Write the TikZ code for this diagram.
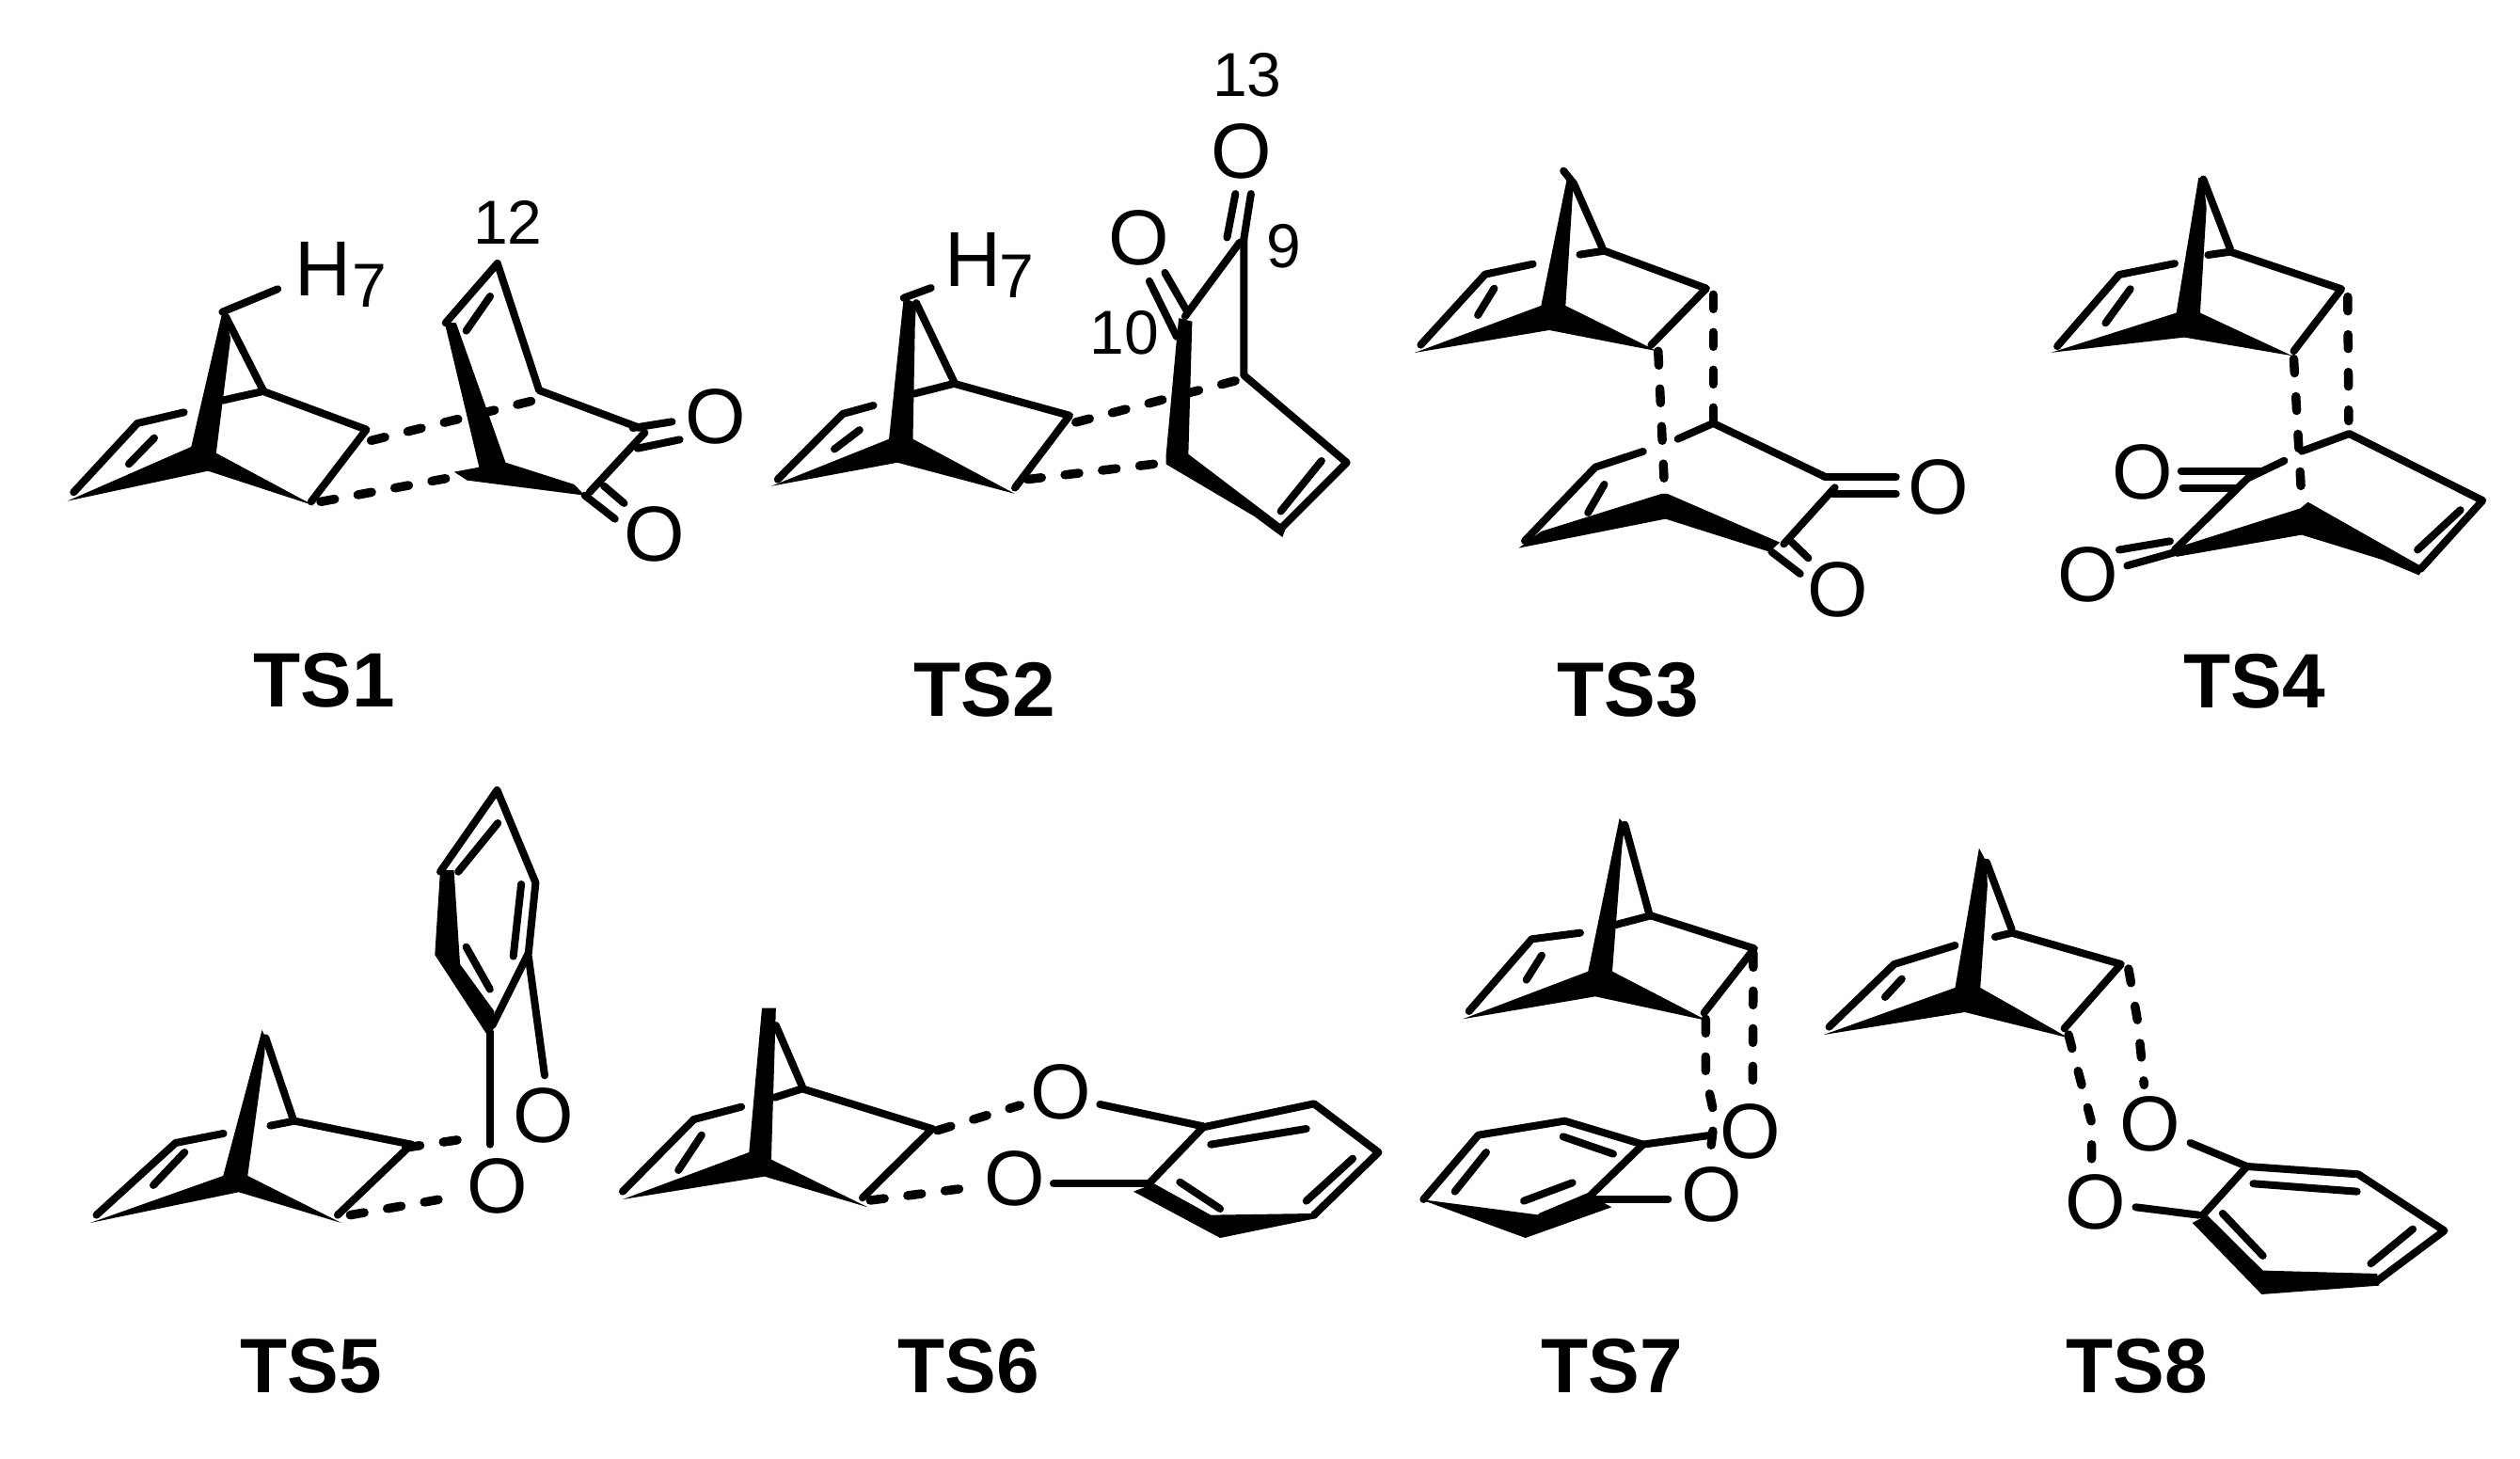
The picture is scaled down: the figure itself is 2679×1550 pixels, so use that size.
\documentclass[tikz,border=0pt]{standalone}
\usepackage{fontspec}
\setmainfont{Liberation Sans}
\usetikzlibrary{calc}
\newcommand{\pts}[1]{\foreach \n/\xx/\yy in {#1}{\coordinate (\n) at (\xx,\yy);}}
\newcommand{\norb}{%
  \fill (Ta) -- (WL) -- (TL) -- (Bt) -- (TR) -- (WR) -- (WT) -- (Tb) -- cycle;
  \draw[bond] (Lt) -- (C1) -- (G1);
  \draw[bond] (G2) -- (Kk) -- (Qq) -- (Rr);
  \draw[bond] (Tb) -- (Ks);
  \draw[bond] (I1) -- (I2);
}
\tikzset{
  bond/.style={line width=8pt,line cap=round,line join=round},
  dbond/.style={line width=9.5pt,line cap=round,line join=round,dash pattern=on 15pt off 25pt},
  atomO/.style={inner sep=0pt,font=\fontsize{83}{90}\selectfont},
  sub/.style={inner sep=0pt,font=\fontsize{66}{70}\selectfont},
  tslabel/.style={inner sep=0pt,font=\fontsize{82}{90}\selectfont\bfseries}
}
\begin{document}
\begin{tikzpicture}
\fill[white] (0,0) rectangle (2679pt,-1550pt);
\useasboundingbox (0,0) rectangle (2679pt,-1550pt);
% TS1
\begin{scope}[shift={(40pt,-180pt)},x=0.5102pt,y=-0.3333pt]
\pts{Ta/385/455,WL/320/885,TL/62/1058,Bt/355/962,TR/575/1072,WR/372/905,WT/402/540,Tb/392/470,
Lt/75/1030,C1/208/810,G1/305/775,G2/385/737,Kk/470/708,Ks/470/705,Qq/685/830,Rr/570/1060,I1/190/940,I2/243/857,
Hb/500/382,d1/695/865,d2/1040/735,d3/590/1060,d4/890/975,
p1/848/488,p2/920/950,p3/868/965,p4/895/992,p5/1140/1040,p6/1118/1005,p7/975/935,p8/872/490,
a/850/490,b/958/300,c/1045/705,e/1255/825,f/1265/840,g/1150/1030,h/893/515,i/943/405,
j/1240/825,k/1322/805,l/1250/890,m/1338/862,n/1180/1010,o/1222/1065,q/1140/1040,r/1203/1115}
\norb
\draw[bond] (Ta) -- (Hb);
\node[atomO] (h1) at (595,318) {H};
\node[sub] (s1) at (692,370) {7};
\node[sub] (n12) at (980,170) {12};
\draw[dbond] (d1) -- (d2);
\draw[dbond] (d3) -- (d4);
\fill (p1) -- (p2) -- (p3) -- (p4) -- (p5) -- (p6) -- (p7) -- (p8) -- cycle;
\draw[bond] (a) -- (b) -- (c) -- (e);
\draw[bond] (f) -- (g);
\draw[bond] (h) -- (i);
\draw[bond] (j) -- (k);
\draw[bond] (l) -- (m);
\draw[bond] (n) -- (o);
\draw[bond] (q) -- (r);
\node[atomO] (o1a) at (1413,790) {O};
\node[atomO] (o1b) at (1285,1165) {O};
\end{scope}
% TS2
\begin{scope}[shift={(800pt,-40pt)},x=0.4464pt,y=-0.3571pt]
\pts{Ta/360/775,WL/325/1195,TL/45/1335,Bt/345/1265,TR/625/1358,WR/382/1195,WT/387/855,Tb/390/790,
Lt/60/1315,C1/215/1120,G1/288/1095,G2/385/1060,Kk/480/1030,Ks/480/1025,Qq/755/1125,Rr/625/1340,I1/195/1225,I2/255/1168,
Hb/425/745,d1/770/1145,d2/1170/1015,d3/655/1315,d4/985/1265,
p1/1010/900,p2/1015/835,p3/1047/845,p4/1038/1240,p5/1270/1460,p6/1262/1487,p7/1195/1425,p8/985/1270,p9/985/1240,
a/1030/830,b/1160/610,c/1170/600,e/1170/1005,f/1415/1265,g/1255/1465,h/1355/1260,i/1258/1410,
j/1187/465,k/1150/465,l/1130/595,m/945/725,n/1010/890,o/982/700,q/1035/815}
\norb
\draw[bond] (Ta) -- (Hb);
\node[atomO] (h2) at (525,662) {H};
\node[sub] (s2) at (630,710) {7};
\draw[dbond] (d1) -- (d2);
\draw[dbond] (d3) -- (d4);
\fill (p1) -- (p2) -- (p3) -- (p4) -- (p5) -- (p6) -- (p7) -- (p8) -- (p9) -- cycle;
\draw[bond] (a) -- (b);
\draw[bond] (c) -- (e) -- (f) -- (g);
\draw[bond] (h) -- (i);
\draw[bond] (j) -- (c);
\draw[bond] (k) -- (l);
\draw[bond] (m) -- (n);
\draw[bond] (o) -- (q);
\node[atomO] (o2a) at (1165,338) {O};
\node[atomO] (o2b) at (920,595) {O};
\node[sub] (n13) at (1178,110) {13};
\node[sub] (n9) at (1265,620) {9};
\node[sub] (n10) at (885,878) {10};
\end{scope}
% TS3
\begin{scope}[shift={(1480pt,-150pt)},x=0.4337pt,y=-0.3333pt]
\pts{Ta/430/110,WL/365/525,TL/55/675,Bt/385/603,TR/650/670,WR/425/525,WT/442/180,Tb/445/135,
Lt/70/650,C1/228/425,G1/345/392,G2/460/362,Kk/520/350,Ks/515/340,Qq/770/470,Rr/635/650,I1/210/555,I2/250/470,
t1/420/95,d1/787/490,d2/787/900,d3/652/670,d4/668/1125,
p1/660/1125,p2/365/1245,p3/310/1298,p4/670/1205,p5/925/1310,p6/950/1280,p7/675/1125,
a/325/1275,b/498/1040,c/615/990,e/700/950,f/787/900,g/1060/1070,h/1085/1105,i/960/1285,j/480/1185,k/520/1095,
l/1060/1072,m/1235/1072,n/1080/1125,o/1235/1125,q/980/1280,r/1020/1330,u/930/1310,v/1000/1380}
\norb
\draw[bond] (t1) -- (Tb);
\draw[dbond] (d1) -- (d2);
\draw[dbond] (d3) -- (d4);
\fill (p1) -- (p2) -- (p3) -- (p4) -- (p5) -- (p6) -- (p7) -- cycle;
\draw[bond] (a) -- (b) -- (c);
\draw[bond] (e) -- (f) -- (g);
\draw[bond] (h) -- (i);
\draw[bond] (j) -- (k);
\draw[bond] (l) -- (m);
\draw[bond] (n) -- (o);
\draw[bond] (q) -- (r);
\draw[bond] (u) -- (v);
\node[atomO] (o3a) at (1340,1105) {O};
\node[atomO] (o3b) at (1092,1430) {O};
\end{scope}
% TS4
\begin{scope}[shift={(2150pt,-150pt)},x=0.3374pt,y=-0.3381pt]
\pts{Ta/555/115,WL/485/540,TL/90/665,Bt/510/617,TR/850/675,WR/560/540,WT/580/210,Tb/570/120,
Lt/110/645,C1/305/420,G1/480/385,G2/585/358,Kk/655/348,Ks/655/340,Qq/1005/465,Rr/855/660,I1/262/572,I2/340/465,
d1/1025/490,d2/1028/880,d3/855/685,d4/880/1130,
p1/875/1155,p2/480/1280,p3/485/1307,p4/880/1238,p5/1130/1315,p6/1250/1365,p7/1262/1340,p8/900/1135,
a/480/1285,b/710/1060,c/825/1005,e/880/975,f/1030/920,g/1450/1130,h/1255/1345,i/1245/1285,j/1380/1160,
k/500/1037,l/755/1037,m/505/1090,n/670/1090,o/305/1285,q/465/1258,r/330/1335,u/490/1290}
\norb
\draw[dbond] (d1) -- (d2);
\draw[dbond] (d3) -- (d4);
\fill (p1) -- (p2) -- (p3) -- (p4) -- (p5) -- (p6) -- (p7) -- (p8) -- cycle;
\draw[bond] (a) -- (b) -- (c);
\draw[bond] (e) -- (f) -- (g) -- (h);
\draw[bond] (i) -- (j);
\draw[bond] (k) -- (l);
\draw[bond] (m) -- (n);
\draw[bond] (o) -- (q);
\draw[bond] (r) -- (u);
\node[atomO] (o4a) at (380,1040) {O};
\node[atomO] (o4b) at (207,1362) {O};
\end{scope}
% TS5
\begin{scope}[shift={(70pt,-810pt)},x=0.3827pt,y=-0.3333pt]
\pts{Ta/545/855,WL/437/1320,TL/68/1470,Bt/480/1372,TR/765/1470,WR/505/1320,WT/552/930,Tb/555/880,
Lt/85/1445,C1/305/1215,G1/438/1185,G2/568/1160,Kk/635/1145,Ks/630/1135,Qq/960/1220,Rr/755/1445,I1/243/1350,I2/330/1245,
d1/945/1230,d2/1150/1195,d3/790/1445,d4/1090/1385,
p1/1040/345,p2/1078/345,p3/1095/645,p4/1190/795,p5/1185/860,p6/1170/870,p7/1025/615,
a/1040/350,b/1198/90,c/1305/385,e/1285/610,f/1185/840,g/1090/350,h/1200/195,i/1265/390,j/1243/620,k/1112/590,l/1178/725,
m/1178/860,n/1178/1220,o/1285/620,q/1330/1000}
\norb
\draw[dbond] (d1) -- (d2);
\draw[dbond] (d3) -- (d4);
\fill (p1) -- (p2) -- (p3) -- (p4) -- (p5) -- (p6) -- (p7) -- cycle;
\draw[bond] (a) -- (b) -- (c) -- (e) -- (f);
\draw[bond] (g) -- (h);
\draw[bond] (i) -- (j);
\draw[bond] (k) -- (l);
\draw[bond] (m) -- (n);
\draw[bond] (o) -- (q);
\node[atomO] (o5a) at (1198,1352) {O};
\node[atomO] (o5b) at (1328,1127) {O};
\end{scope}
% TS6
\begin{scope}[shift={(640pt,-1040pt)},x=0.5485pt,y=-0.3333pt]
\pts{Ta/310/95,WL/285/555,TL/40/705,Bt/315/632,TR/515/730,WR/328/578,WT/335/205,Tb/337/95,
Lt/40/680,C1/178/450,G1/270/410,G2/335/380,Kk/388/352,Ks/388/345,Qq/640/480,Rr/505/700,I1/148/612,I2/193/500,
t1/337/150,d1/650/485,d2/810/405,d3/520/708,d4/725/665,
a/965/402,b/1165/472,c/875/655,e/1060/655,f/1165/475,g/1380/400,h/1505/555,i/1380/755,
p1/1030/680,p2/1070/655,p3/1180/755,p4/1380/750,p5/1385/765,p6/1198/828,
j/1180/530,k/1365/480,l/1365/710,m/1455/575,n/1120/650,o/1198/735}
\fill (Ta) -- (WL) -- (TL) -- (Bt) -- (TR) -- (WR) -- (WT) -- (Tb) -- cycle;
\draw[bond] (Lt) -- (C1) -- (G1);
\draw[bond] (G2) -- (Kk) -- (Qq) -- (Rr);
\draw[bond] (t1) -- (Ks);
\draw[bond] (I1) -- (I2);
\draw[dbond] (d1) -- (d2);
\draw[dbond] (d3) -- (d4);
\node[atomO] (o6a) at (890,362) {O};
\node[atomO] (o6b) at (800,638) {O};
\draw[bond] (a) -- (b);
\draw[bond] (c) -- (e);
\draw[bond] (f) -- (g) -- (h) -- (i);
\draw[bond] (f) -- (e);
\fill (p1) -- (p2) -- (p3) -- (p4) -- (p5) -- (p6) -- cycle;
\draw[bond] (j) -- (k);
\draw[bond] (l) -- (m);
\draw[bond] (n) -- (o);
\end{scope}
% TS7
\begin{scope}[shift={(1490pt,-850pt)},x=0.3333pt,y=-0.3333pt]
\pts{Ta/695/60,WL/595/548,TL/195/700,Bt/618/628,TR/975/705,WR/672/548,WT/703/150,Tb/712/80,
Lt/215/675,C1/415/445,G1/570/425,G2/680/400,Kk/795/370,Ks/790/365,Qq/1125/475,Rr/965/680,I1/398/575,I2/447/497,
d1/1122/490,d2/1120/935,d3/970/700,d4/970/880,d5/998/1010,d6/985/1125,
a/770/1100,b/990/1070,c/610/1275,e/850/1275,f/520/1025,g/245/1070,h/70/1275,i/600/1265,j/445/1330,
p1/60/1275,p2/440/1325,p3/600/1262,p4/670/1300,p5/395/1398,
k/515/1075,l/675/1130,m/545/1222,n/390/1280,o/270/1125,q/170/1250}
\norb
\draw[dbond] (d1) -- (d2);
\draw[dbond] (d3) -- (d4) -- (d5) -- (d6);
\node[atomO] (o7a) at (1113,1058) {O};
\node[atomO] (o7b) at (990,1260) {O};
\draw[bond] (a) -- (b);
\draw[bond] (c) -- (e);
\draw[bond] (a) -- (f) -- (g) -- (h);
\draw[bond] (a) -- (i) -- (j);
\fill (p1) -- (p2) -- (p3) -- (p4) -- (p5) -- cycle;
\draw[bond] (k) -- (l);
\draw[bond] (m) -- (n);
\draw[bond] (o) -- (q);
\end{scope}
% TS8
\begin{scope}[shift={(1920pt,-890pt)},x=0.4464pt,y=-0.3333pt]
\pts{Ta/412/35,WL/355/480,TL/42/630,Bt/378/558,TR/625/640,WR/415/480,WT/432/155,Tb/430/80,
Lt/55/605,C1/210/405,G1/355/345,G2/450/318,Kk/490/305,Ks/490/295,Qq/750/405,Rr/615/610,I1/188/510,I2/228/452,
d1/768/420,d2/790/590,d3/805/790,d4/625/630,d5/680/910,d6/680/1030,
a/915/975,b/1050/1050,c/785/1180,e/935/1205,f/1315/1075,g/1520/1255,h/1360/1415,i/945/1205,
p1/920/1230,p2/955/1205,p3/1088/1382,p4/1360/1392,p5/1365/1430,p6/1085/1458,
j/1065/1105,k/1312/1130,l/1445/1250,m/1345/1360,n/992/1200,o/1088/1335}
\norb
\draw[dbond] (d1) -- (d2) -- (d3);
\draw[dbond] (d4) -- (d5) -- (d6);
\node[atomO] (o8a) at (820,915) {O};
\node[atomO] (o8b) at (690,1163) {O};
\draw[bond] (a) -- (b);
\draw[bond] (c) -- (e);
\draw[bond] (b) -- (f) -- (g) -- (h);
\draw[bond] (b) -- (i);
\fill (p1) -- (p2) -- (p3) -- (p4) -- (p5) -- (p6) -- cycle;
\draw[bond] (j) -- (k);
\draw[bond] (l) -- (m);
\draw[bond] (n) -- (o);
\end{scope}
% Labels
\node[tslabel] (ts1) at (345pt,-723pt) {TS1};
\node[tslabel] (ts2) at (1047pt,-733pt) {TS2};
\node[tslabel] (ts3) at (1731pt,-733pt) {TS3};
\node[tslabel] (ts4) at (2397pt,-724pt) {TS4};
\node[tslabel] (ts5) at (331pt,-1452pt) {TS5};
\node[tslabel] (ts6) at (1030pt,-1452pt) {TS6};
\node[tslabel] (ts7) at (1714pt,-1452pt) {TS7};
\node[tslabel] (ts8) at (2272pt,-1452pt) {TS8};
\end{tikzpicture}
\end{document}
